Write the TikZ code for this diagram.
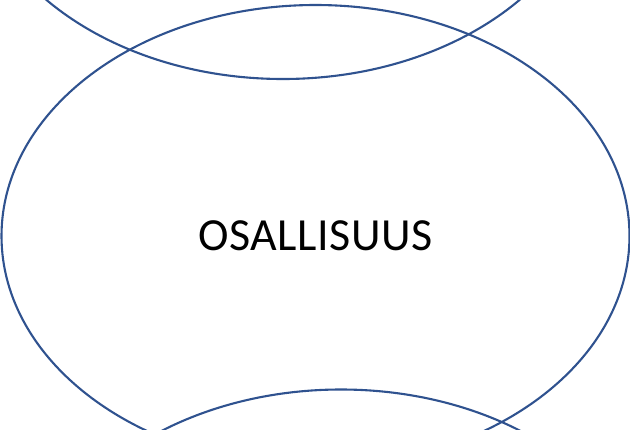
\documentclass[tikz,border=0pt]{standalone}
\usepackage{fontspec}
\setmainfont{Carlito}
\usetikzlibrary{shapes.geometric}
\definecolor{ringblue}{RGB}{47,82,143}
\begin{document}
\begin{tikzpicture}[x=1pt, y=-1pt,
    ring/.style={ellipse, draw=ringblue, line width=2.1pt,
      minimum width=\rw, minimum height=\rh, inner sep=0pt}]
    \def\rw{628pt}  % ring width
    \def\rh{462pt}  % ring height
    \useasboundingbox (0,0) rectangle (630,429);
    \clip (0,0) rectangle (630,429);
    % Rings, top to bottom
    \node[ring] (upper) at (283,-152) {};
    \node[ring, font=\fontsize{46}{55}\selectfont\addfontfeatures{LetterSpace=1}]
      (osallisuus) at (315.5,236) {OSALLISUUS};
    \node[ring] (lower) at (341,620.5) {};
  \end{tikzpicture}
\end{document}
